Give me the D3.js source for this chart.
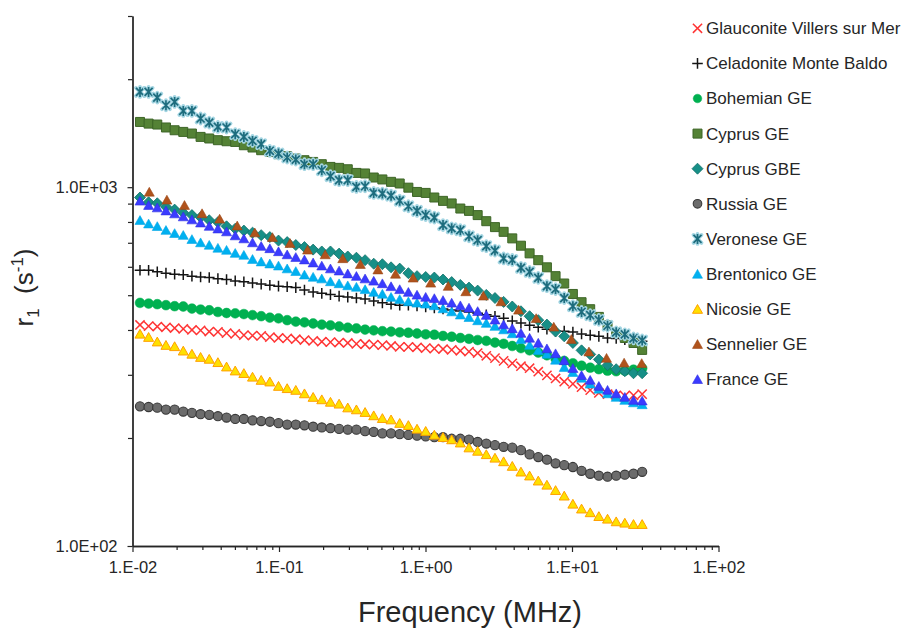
<!DOCTYPE html>
<html><head><meta charset="utf-8">
<script src="https://cdn.jsdelivr.net/npm/d3@7"></script>
<style>
body{margin:0;background:#fff}
svg{display:block}
text{font-family:"Liberation Sans",Arial,sans-serif}
</style>
</head><body>
<svg id="chart" width="901" height="629"></svg>
<script>
// ---------- data ----------
const freq = [0.01125, 0.01288, 0.01476, 0.01692, 0.01939, 0.02221, 0.02545, 0.02916, 0.03341, 0.03828,
  0.04385, 0.05024, 0.05757, 0.06596, 0.07557, 0.08659, 0.09922, 0.1137, 0.1302, 0.1492,
  0.1710, 0.1959, 0.2245, 0.2572, 0.2947, 0.3376, 0.3869, 0.4432, 0.5078, 0.5819,
  0.6668, 0.7640, 0.8753, 1.003, 1.149, 1.317, 1.509, 1.729, 1.981, 2.270,
  2.600, 2.980, 3.414, 3.911, 4.482, 5.135, 5.884, 6.742, 7.724, 8.849,
  10.14, 11.62, 13.31, 15.25, 17.48, 20.03, 22.94, 26.29, 30.12];
const freqSennelier = [0.01302, 0.01717, 0.02264, 0.02984, 0.03934, 0.05186, 0.06837, 0.09016, 0.1189, 0.1567,
  0.2066, 0.2724, 0.3591, 0.4734, 0.6241, 0.8229, 1.085, 1.430, 1.885, 2.486,
  3.277, 4.320, 5.695, 7.508, 9.899, 13.05, 17.21, 22.69, 29.91];

const glauconite = [413, 410, 409, 407, 405, 403, 400, 399, 396, 395, 392, 390, 387, 386, 385, 382, 380, 379, 377, 375,
  373, 371, 370, 369, 368, 366, 365, 364, 363, 361, 359, 359, 358, 356, 355, 354, 352, 350, 348, 345,
  339, 334, 328, 323, 317, 313, 306, 299, 293, 287, 283, 277, 272, 267, 265, 263, 262, 263, 265];
const celadonite = [587, 587, 581, 576, 572, 570, 565, 562, 560, 556, 553, 548, 545, 541, 537, 533, 530, 528, 525, 517,
  510, 506, 502, 497, 494, 491, 488, 482, 476, 472, 469, 469, 467, 464, 461, 458, 455, 452, 449, 445,
  441, 437, 431, 424, 418, 412, 407, 402, 397, 397, 395, 390, 387, 384, 380, 379, 376, 374, 372];
const bohemian = [476, 474, 472, 469, 466, 465, 459, 456, 454, 449, 446, 445, 443, 440, 437, 433, 431, 426, 422, 420,
  417, 414, 412, 409, 406, 404, 401, 399, 397, 396, 394, 393, 391, 389, 388, 385, 383, 380, 378, 375,
  373, 369, 366, 361, 356, 351, 346, 340, 333, 328, 323, 318, 314, 311, 308, 307, 308, 310, 313];
const cyprusGE = [1520, 1504, 1495, 1467, 1441, 1426, 1411, 1381, 1367, 1352, 1343, 1337, 1309, 1290, 1268, 1254, 1236, 1220, 1202, 1189,
  1176, 1159, 1139, 1132, 1122, 1096, 1092, 1064, 1051, 1035, 1024, 997, 970, 964, 936, 916, 901, 872, 859, 836,
  804, 774, 751, 720, 687, 654, 626, 598, 565, 539, 504, 478, 457, 435, 412, 393, 380, 368, 352];
const cyprusGBE = [936, 908, 902, 882, 866, 849, 836, 825, 809, 799, 778, 766, 757, 747, 735, 726, 710, 703, 690, 681,
  670, 662, 662, 653, 641, 636, 626, 612, 610, 598, 593, 576, 565, 562, 560, 553, 544, 534, 525, 515,
  501, 491, 479, 465, 451, 437, 426, 414, 396, 384, 368, 351, 342, 331, 319, 311, 307, 303, 303];
const russia = [245, 244, 243, 240, 240, 237, 235, 233, 232, 230, 228, 226, 226, 224, 223, 222, 220, 218, 218, 217,
  215, 214, 213, 212, 211, 211, 209, 208, 206, 206, 205, 204, 203, 202, 201, 201, 199, 199, 198, 195,
  193, 191, 189, 188, 185, 180, 177, 174, 170, 168, 166, 162, 159, 157, 156, 157, 158, 159, 161];
const veronese = [1843, 1843, 1777, 1692, 1728, 1631, 1631, 1554, 1514, 1472, 1467, 1405, 1381, 1346, 1318, 1262, 1241, 1210, 1194, 1159,
  1159, 1115, 1073, 1046, 1046, 1002, 1006, 964, 960, 947, 917, 885, 859, 836, 823, 784, 768, 759, 730, 712,
  685, 666, 633, 627, 596, 581, 559, 530, 520, 491, 466, 449, 440, 427, 411, 394, 389, 379, 374];
const brentonico = [809, 791, 778, 759, 744, 735, 716, 701, 690, 677, 668, 655, 647, 630, 620, 612, 604, 593, 583, 570,
  562, 556, 546, 539, 532, 527, 519, 510, 504, 494, 487, 480, 476, 473, 468, 459, 450, 441, 434, 425,
  418, 410, 401, 391, 377, 363, 351, 343, 330, 315, 305, 294, 283, 274, 266, 260, 255, 251, 248];
const nicosie = [390, 382, 371, 363, 360, 350, 343, 336, 332, 325, 316, 308, 303, 296, 290, 287, 279, 275, 272, 266,
  260, 256, 252, 249, 243, 240, 236, 231, 227, 225, 220, 217, 212, 209, 204, 201, 198, 194, 188, 184,
  180, 176, 172, 167, 161, 157, 152, 148, 143, 138, 131, 127, 124, 121, 119, 117, 116, 115, 115];
const sennelier = [970, 922, 891, 845, 816, 781, 747, 725, 698, 669, 649, 633, 610, 589, 573, 559, 541, 530, 512, 498,
  480, 455, 431, 408, 377, 348, 334, 324, 323];
const france = [916, 891, 877, 860, 844, 828, 812, 796, 779, 766, 752, 733, 719, 701, 685, 675, 662, 649, 638, 628,
  616, 604, 593, 585, 574, 565, 556, 548, 539, 529, 519, 510, 501, 494, 490, 484, 476, 468, 461, 451,
  440, 427, 414, 404, 392, 380, 368, 355, 344, 329, 313, 299, 290, 279, 272, 266, 260, 255, 254];

const seriesNames = ["Glauconite Villers sur Mer", "Celadonite Monte Baldo", "Bohemian GE", "Cyprus GE", "Cyprus GBE",
  "Russia GE", "Veronese GE", "Brentonico GE", "Nicosie GE", "Sennelier GE", "France GE"];

const xMajorTicks = [0.01, 0.1, 1, 10, 100];
const xTickLabels = ["1.E-02", "1.E-01", "1.E+00", "1.E+01", "1.E+02"];
const yMajorTicks = [100, 1000];
const yTickLabels = ["1.0E+02", "1.0E+03"];
const yMinorTicks = [200, 300, 400, 500, 600, 700, 800, 900, 2000, 3000];
const xMinorTicks = [0.02,0.03,0.04,0.05,0.06,0.07,0.08,0.09, 0.2,0.3,0.4,0.5,0.6,0.7,0.8,0.9,
  2,3,4,5,6,7,8,9, 20,30,40,50,60,70,80,90];

// ---------- styles ----------
const shapes = {
  times: "M-4.6,-4.6L4.6,4.6M4.6,-4.6L-4.6,4.6",
  plus: "M-5.3,0L5.3,0M0,-5.3L0,5.3",
  square: "M-4.5,-4.5H4.5V4.5H-4.5Z",
  diamond: "M0,-5.5L5.5,0L0,5.5L-5.5,0Z",
  triangle: "M0,-4.6L5,4.2L-5,4.2Z",
  star: "M-4,-4L4,4M4,-4L-4,4M0,-5L0,5"
};
const styles = [
  {data: glauconite, f: freq, shape: "times", fill: "none", stroke: "#ff3434", sw: 1.5},
  {data: celadonite, f: freq, shape: "plus", fill: "none", stroke: "#141414", sw: 1.5},
  {data: bohemian, f: freq, shape: "circle", fill: "#00b050", stroke: "#00b050", sw: 0.5, r: 4.9},
  {data: cyprusGE, f: freq, shape: "square", fill: "#548235", stroke: "#3d6527", sw: 1},
  {data: cyprusGBE, f: freq, shape: "diamond", fill: "#178f87", stroke: "#127069", sw: 0.8},
  {data: russia, f: freq, shape: "circle", fill: "#6c6c6c", stroke: "#383838", sw: 1.1, r: 4.6},
  {data: veronese, f: freq, shape: "star", fill: "none", stroke: "#1d6c7d", sw: 1.7, halo: "#a3d5e2"},
  {data: brentonico, f: freq, shape: "triangle", fill: "#00b0f0", stroke: "#00a6e6", sw: 0.6},
  {data: nicosie, f: freq, shape: "triangle", fill: "#ffe000", stroke: "#ffa000", sw: 1},
  {data: sennelier, f: freqSennelier, shape: "triangle", fill: "#b0531c", stroke: "#9a4716", sw: 0.6},
  {data: france, f: freq, shape: "triangle", fill: "#3b3bff", stroke: "#2f2fe0", sw: 0.6}
];

// ---------- chart ----------
const svg = d3.select("#chart");
const x = d3.scaleLog().domain([0.01, 100]).range([132.5, 718.5]);
const y = d3.scaleLog().domain([100, 3000]).range([546, 16]);
const axisColor = "#262626";

function drawMarker(g, s, cx, cy) {
  if (s.shape === "circle") {
    g.append("circle").attr("cx", cx).attr("cy", cy).attr("r", s.r)
      .attr("fill", s.fill).attr("stroke", s.stroke).attr("stroke-width", s.sw);
    return;
  }
  if (s.halo) {
    g.append("path").attr("d", shapes[s.shape]).attr("transform", `translate(${cx},${cy})`)
      .attr("fill", "none").attr("stroke", s.halo).attr("stroke-width", 3.8).attr("stroke-linecap", "round");
  }
  g.append("path").attr("d", shapes[s.shape]).attr("transform", `translate(${cx},${cy})`)
    .attr("fill", s.fill).attr("stroke", s.stroke).attr("stroke-width", s.sw);
}

// axes
const xMinorAxis = d3.axisBottom(x).tickValues(xMinorTicks).tickSize(4).tickSizeOuter(0).tickFormat("");
const xAxis = d3.axisBottom(x).tickValues(xMajorTicks).tickSize(6).tickSizeOuter(0).tickPadding(9)
  .tickFormat((d, i) => xTickLabels[i]);
const yMinorAxis = d3.axisLeft(y).tickValues(yMinorTicks).tickSize(4.5).tickSizeOuter(0).tickFormat("");
const yAxis = d3.axisLeft(y).tickValues(yMajorTicks).tickSize(5).tickSizeOuter(0).tickPadding(10)
  .tickFormat((d, i) => yTickLabels[i]);

function styleAxis(g) {
  g.select(".domain").attr("stroke", axisColor).attr("stroke-width", 1.3);
  g.selectAll(".tick line").attr("stroke", axisColor).attr("stroke-width", 1.2);
  g.selectAll(".tick text").attr("fill", "#262626").attr("font-size", "16.5px")
    .attr("font-family", '"Liberation Sans",Arial,sans-serif');
}
svg.append("g").attr("transform", "translate(0,546)").call(xMinorAxis).call(styleAxis);
svg.append("g").attr("transform", "translate(0,546)").call(xAxis).call(styleAxis);
svg.append("g").attr("transform", "translate(132.5,0)").call(yMinorAxis).call(styleAxis);
svg.append("g").attr("transform", "translate(132.5,0)").call(yAxis).call(styleAxis);

// series
styles.forEach(s => {
  const g = svg.append("g");
  s.data.forEach((v, i) => drawMarker(g, s, x(s.f[i]), y(v)));
});

// legend
const legend = svg.append("g");
seriesNames.forEach((name, k) => {
  const cy = 28.3 + 35.1 * k;
  const s = Object.assign({}, styles[k]);
  if (s.shape === "circle") s.r = 4.3;
  drawMarker(legend, s, 697.5, cy);
  legend.append("text").attr("x", 706).attr("y", cy).attr("dy", "0.35em")
    .attr("font-size", "17px").attr("fill", "#262626").text(name);
});

// axis titles
svg.append("text").attr("x", 470).attr("y", 622).attr("text-anchor", "middle")
  .attr("font-size", "29px").attr("fill", "#262626").text("Frequency (MHz)");

const yt = svg.append("text").attr("transform", "translate(33,287.5) rotate(-90)")
  .attr("text-anchor", "middle").attr("font-size", "26px").attr("fill", "#262626");
yt.append("tspan").text("r");
yt.append("tspan").attr("font-size", "17px").attr("dy", 6).text("1");
yt.append("tspan").attr("dy", -6).text("\u00a0\u00a0(s");
yt.append("tspan").attr("font-size", "17px").attr("dy", -10).text("-1");
yt.append("tspan").attr("dy", 10).text(")");
</script>
</body></html>
